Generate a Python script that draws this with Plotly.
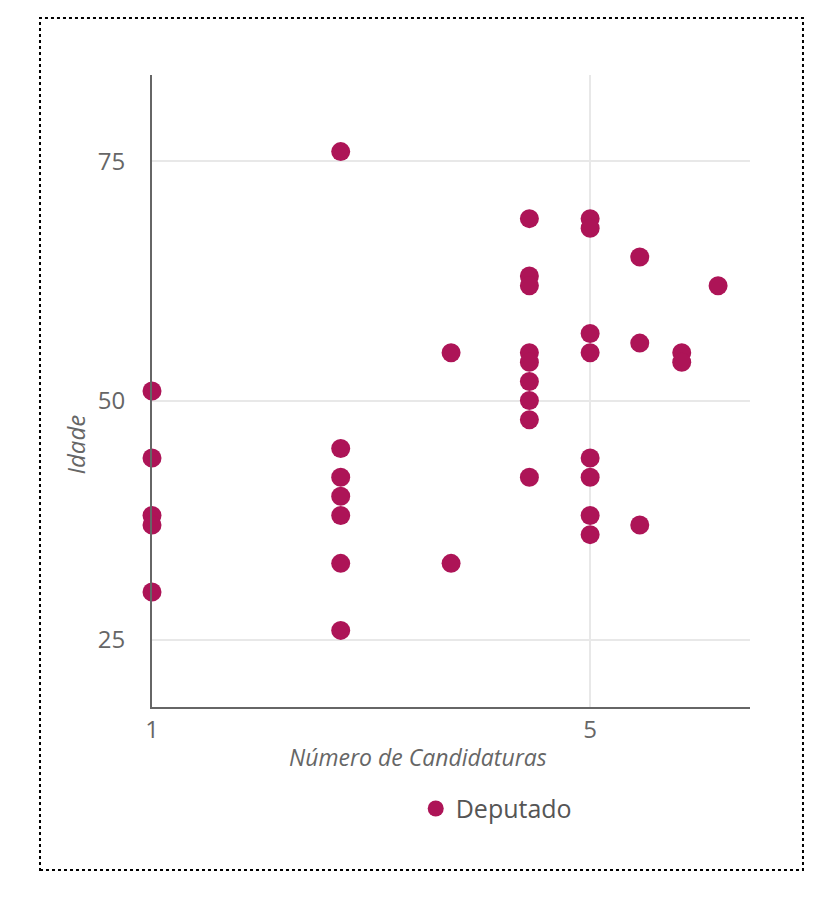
import plotly.graph_objects as go

candidaturas = [1, 1, 1, 1, 1,
                2, 2, 2, 2, 2, 2, 2,
                3, 3,
                4, 4, 4, 4, 4, 4, 4, 4, 4,
                5, 5, 5, 5, 5, 5, 5, 5,
                6, 6, 6,
                7, 7,
                8]
idade = [51, 44, 38, 37, 30,
         76, 45, 42, 40, 38, 33, 26,
         55, 33,
         69, 63, 62, 55, 54, 52, 50, 48, 42,
         69, 68, 57, 55, 44, 42, 38, 36,
         65, 56, 37,
         55, 54,
         62]
serie = "Deputado"
x_ticks = [1, 5]
y_ticks = [25, 50, 75]

cor = "#AD1457"
cinza = "#666666"

fig = go.Figure()
fig.add_trace(go.Scatter(
    x=candidaturas, y=idade, mode="markers", name=serie,
    marker=dict(size=19, color=cor, symbol="circle"),
    cliponaxis=False,
))

fig.update_layout(
    width=840, height=900,
    margin=dict(l=144, r=98, t=67, b=201),
    plot_bgcolor="white", paper_bgcolor="white",
    font=dict(family="Open Sans, Liberation Sans, sans-serif", color=cinza),
    showlegend=True,
    legend=dict(orientation="h", x=0.441, xanchor="left", y=-0.161, yanchor="middle",
                font=dict(size=25, color="#555555"), itemsizing="trace"),
    xaxis=dict(type="log", range=[0, 0.954], tickvals=x_ticks, ticktext=[str(v) for v in x_ticks],
               showline=True, linecolor=cinza, linewidth=2, showgrid=True, gridcolor="#e8e8e8",
               gridwidth=2, zeroline=False, ticks="", tickfont=dict(size=24, color=cinza)),
    yaxis=dict(range=[18, 84], tickvals=y_ticks, showline=True, linecolor=cinza, linewidth=2,
               showgrid=True, gridcolor="#e8e8e8", gridwidth=2, zeroline=False, ticks="outside",
               ticklen=20, tickcolor="rgba(0,0,0,0)", tickfont=dict(size=24, color=cinza)),
    annotations=[
        dict(text="<i>Número de Candidaturas</i>", xref="paper", yref="paper", x=0.445, y=-0.079,
             showarrow=False, font=dict(size=23, color=cinza),
             xanchor="center", yanchor="middle"),
        dict(text="<i>Idade</i>", xref="paper", yref="paper", x=-0.128, y=0.416,
             showarrow=False, textangle=-90, font=dict(size=24, color=cinza),
             xanchor="center", yanchor="middle"),
    ],
    shapes=[dict(type="rect", xref="paper", yref="paper", x0=-0.1873, x1=1.0886,
                 y0=-0.2579, y1=1.0902, line=dict(color="black", width=2, dash="dot"),
                 fillcolor="rgba(0,0,0,0)")],
)
fig.write_html("out.html")
